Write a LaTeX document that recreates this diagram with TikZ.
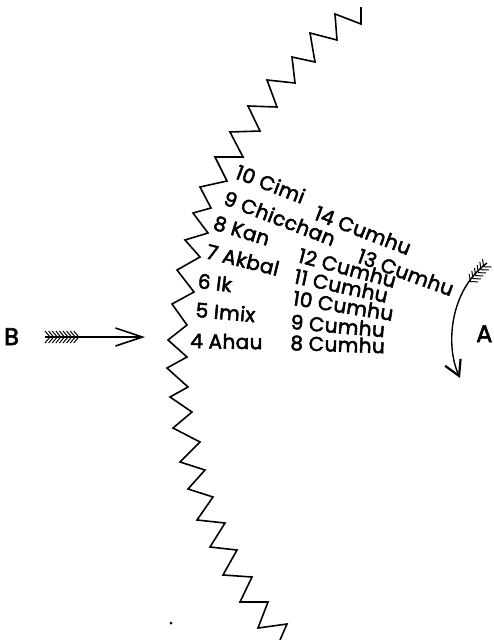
\documentclass[tikz,border=0pt]{standalone}
\usepackage{fontspec}
\setmainfont{Poppins}[LetterSpace=2,FakeBold=2.5]
\usetikzlibrary{arrows.meta}
\tikzset{
  sawline/.style={line width=1.6pt, line join=miter},
  daysign/.style={anchor=base west, inner sep=0pt, font=\fontsize{20}{24}\selectfont},
  letter/.style={anchor=base west, inner sep=0pt, font=\fontsize{24}{28}\selectfont},
  shaft/.style={line width=1.4pt},
  feather/.style={line width=1pt},
}
\begin{document}
\begin{tikzpicture}[x=1pt,y=-1pt]
\useasboundingbox (0,0) rectangle (494,640);
% the wall
\draw[sawline] plot coordinates {(361,7) (361,24) (335,14) (337,40) (310,33) (315,62)
  (292,57) (295,83) (267,80) (277,107) (248,106) (260,131) (230,132) (243,157)
  (215,157) (227,181) (200,187) (211,208) (193,213) (208,233) (185,240) (200,257)
  (177,270) (194,292) (172,304) (187,325) (168,340) (187,357) (167,368) (188,387)
  (170,397) (192,412) (173,428) (200,442) (180,462) (205,470) (188,489) (213,497)
  (197,520) (225,523) (210,547) (237,550) (223,575) (252,577) (240,602) (268,602)
  (258,628) (287,624) (280,640)};
% day signs
\node[daysign,rotate=-21] (d10) at (234,178) {10 Cimi};
\node[daysign,rotate=-21] (d9) at (222,204) {9 Chicchan};
\node[daysign,rotate=-17] (d8) at (212,229) {8 Kan};
\node[daysign,rotate=-14] (d7) at (205,258) {7 Akbal};
\node[daysign,rotate=-7] (d6) at (197,288) {6 Ik};
\node[daysign,rotate=-5] (d5) at (195,317) {5 Imix};
\node[daysign,rotate=-1] (d4) at (190,348) {4 Ahau};
% month positions
\node[daysign,rotate=-21] (m14) at (313,219) {14 Cumhu};
\node[daysign,rotate=-20] (m13) at (356,262) {13 Cumhu};
\node[daysign,rotate=-15] (m12) at (297,262) {12 Cumhu};
\node[daysign,rotate=-12] (m11) at (293,283) {11 Cumhu};
\node[daysign,rotate=-9] (m10) at (292,305) {10 Cumhu};
\node[daysign,rotate=-5] (m9) at (290,329) {9 Cumhu};
\node[daysign,rotate=-2] (m8) at (290,350) {8 Cumhu};
% arrow B
\node[letter] (B) at (4,345) {B};
\coordinate (tailB) at (45,337);
\coordinate (tipB) at (145,337);
\draw[shaft,-{Straight Barb[length=27pt,width=18pt,line width=1.6pt]}] (tailB) -- (tipB);
\begin{scope}[shift={(tailB)}]
\foreach \i in {0,...,8}
  \draw[feather] (3.6*\i,-6) -- (3.6*\i+5,0) -- (3.6*\i,6);
\end{scope}
% arrow A
\node[letter] (A) at (476,342) {A};
\coordinate (tailA) at (487,263);
\coordinate (tipA) at (460,378);
\draw[shaft,-{Straight Barb[length=15pt,width=17pt,line width=2.2pt]}] (tailA) .. controls (450,290) and (445,345) .. (tipA);
\begin{scope}[shift={(tailA)},rotate=228]
\foreach \i in {0,...,5}
  \draw[feather] (4*\i,-6) -- (4*\i+5,0) -- (4*\i,6);
\end{scope}
\fill (171,623) circle (1.5);
\end{tikzpicture}
\end{document}
